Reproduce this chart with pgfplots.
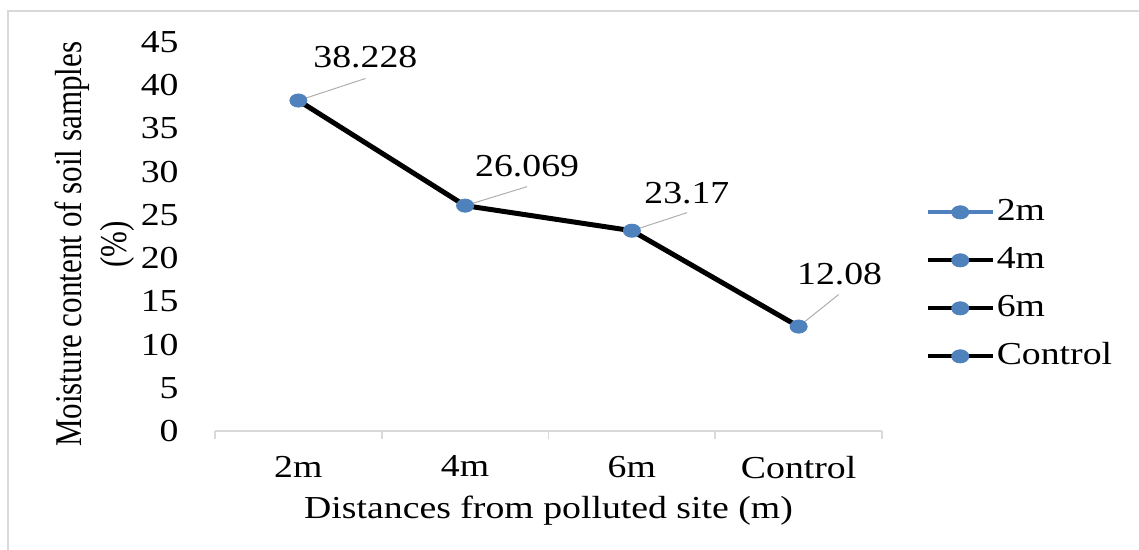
\documentclass[border=0pt]{standalone}
\usepackage{fontspec}
\setmainfont{Liberation Serif}[FakeStretch=1.18]
\newfontfamily\ylfont{Liberation Serif}[FakeStretch=0.97]
\usepackage{pgfplots}
\pgfplotsset{compat=1.18}
\definecolor{xblue}{RGB}{79,129,189}
\definecolor{fgray}{RGB}{217,217,217}
\definecolor{lgray}{RGB}{175,175,175}
\begin{document}
\fontsize{16}{19}\selectfont
\begin{tikzpicture}
\path[use as bounding box] (-107.5pt,-59.5pt) rectangle (462pt,215.5pt);
\draw[fgray, line width=1pt] (-103.5pt,-62pt) -- (-103.5pt,210pt) -- (465pt,210pt);
\begin{axis}[
  scale only axis, width=333.5pt, height=194.5pt,
  xmin=-0.5, xmax=3.5, ymin=0, ymax=45,
  clip=false,
  axis x line*=bottom, axis y line*=left,
  y axis line style={draw=none},
  x axis line style={fgray, line width=0.8pt, -},
  xtick={0,1,2,3}, xticklabels={2m,4m,6m,Control},
  minor xtick={-0.5,0.5,1.5,2.5,3.5},
  major x tick style={draw=none},
  minor x tick style={fgray, line width=0.8pt},
  major y tick style={draw=none},
  minor y tick num=0,
  tick align=outside, major tick length=0pt, minor tick length=4pt,
  ytick={0,5,...,45},
  /pgf/number format/assume math mode=true,
  tick label style={font=\fontsize{16}{19}\selectfont},
  label style={font=\fontsize{16}{19}\selectfont},
  xticklabel style={yshift=-6.9pt},
  yticklabel style={xshift=-12.7pt},
  ylabel={\scalebox{1}[1.18]{\ylfont\begin{tabular}{@{}c@{}}Moisture content of soil samples\\(\%)\end{tabular}}},
  ylabel style={at={(axis description cs:-0.18,0.48)}, anchor=center},
  xlabel={Distances from polluted site (m)},
  xlabel style={at={(axis description cs:0.5,0)}, anchor=center, yshift=-40pt},
  legend style={draw=none, fill=none, at={(axis description cs:1.065,0.377)}, anchor=west,
    font=\fontsize{16}{19}\selectfont, row sep=8pt, inner sep=0pt,
    nodes={inner sep=1pt, text height=11pt, text depth=3pt}},
  legend cell align=left,
  legend image code/.code={\draw[mark repeat=2,mark phase=2,#1] plot coordinates {(0pt,0pt) (16.25pt,0pt) (32.5pt,0pt)};},
]
\addplot[black, line width=2.5pt, mark=*, mark size=3.3pt,
  mark options={fill=xblue, draw=xblue, xscale=1.3, line width=0.4pt}, forget plot]
  coordinates {(0,38.228) (1,26.069) (2,23.17) (3,12.08)};
\draw[lgray, line width=0.5pt] (axis cs:0,38.228) -- ++(33.5pt,11pt);
\draw[lgray, line width=0.5pt] (axis cs:1,26.069) -- ++(31pt,9.5pt);
\draw[lgray, line width=0.5pt] (axis cs:2,23.17) -- ++(27.5pt,9pt);
\draw[lgray, line width=0.5pt] (axis cs:3,12.08) -- ++(20pt,16pt);
\node[font=\fontsize{16}{19}\selectfont] at ([shift={(33.5pt,21.5pt)}]axis cs:0,38.228) {38.228};
\node[font=\fontsize{16}{19}\selectfont] at ([shift={(31pt,20pt)}]axis cs:1,26.069) {26.069};
\node[font=\fontsize{16}{19}\selectfont] at ([shift={(27.5pt,19pt)}]axis cs:2,23.17) {23.17};
\node[font=\fontsize{16}{19}\selectfont] at ([shift={(20.5pt,26pt)}]axis cs:3,12.08) {12.08};
\addlegendimage{xblue, line width=2pt, mark=*, mark size=3.3pt, mark options={fill=xblue, draw=xblue, xscale=1.3, line width=0.4pt}}
\addlegendentry{2m}
\addlegendimage{black, line width=2pt, mark=*, mark size=3.3pt, mark options={fill=xblue, draw=xblue, xscale=1.3, line width=0.4pt}}
\addlegendentry{4m}
\addlegendimage{black, line width=2pt, mark=*, mark size=3.3pt, mark options={fill=xblue, draw=xblue, xscale=1.3, line width=0.4pt}}
\addlegendentry{6m}
\addlegendimage{black, line width=2pt, mark=*, mark size=3.3pt, mark options={fill=xblue, draw=xblue, xscale=1.3, line width=0.4pt}}
\addlegendentry{Control}
\end{axis}
\end{tikzpicture}
\end{document}
